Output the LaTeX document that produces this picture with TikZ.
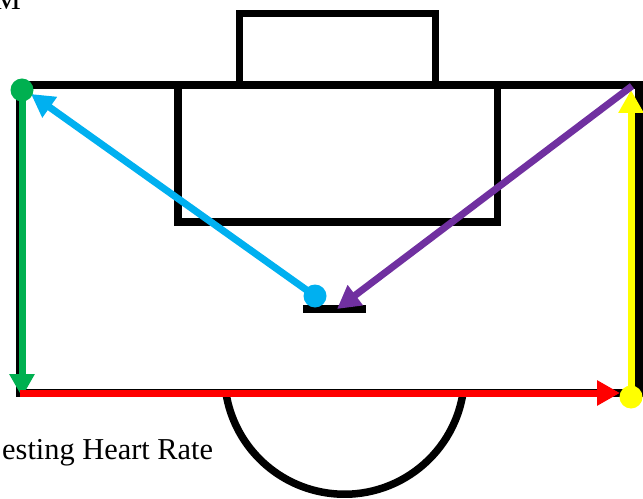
\documentclass[tikz,border=0pt]{standalone}
\usepackage{fontspec}
\setmainfont{Liberation Serif}
\usetikzlibrary{arrows.meta}
\definecolor{cgreen}{HTML}{00B050}
\definecolor{cblue}{HTML}{00B0F0}
\definecolor{cred}{HTML}{FF0000}
\definecolor{cyellow}{HTML}{FFFF00}
\definecolor{cpurple}{HTML}{7030A0}
\begin{document}
\begin{tikzpicture}[x=1bp,y=-1bp,
  field/.style={line width=7.5bp, draw=black},
  mv/.style={line width=7bp, -{Triangle[length=23bp,width=24bp]}},
  dot/.style={circle, inner sep=0pt, minimum size=23bp},
  lbl/.style={inner sep=0pt, font=\fontsize{30.5}{36}\selectfont}]
\useasboundingbox (0,0) rectangle (643,499);
\clip (0,0) rectangle (643,499);
% field
\draw[field] (20,85) rectangle (639,393);
\draw[field] (239.5,13.5) rectangle (435.5,85);
\draw[field] (178,85) rectangle (497.5,222);
\draw[field] (303,309) -- (366,309);
\draw[field] (463,393) arc[start angle=9, end angle=171, radius=120];
% coordinates
\coordinate (gc) at (22,90);
\coordinate (bc) at (315,296);
\coordinate (yc) at (631,397);
\coordinate (gtip) at (22,397);
\coordinate (rstart) at (20,393);
\coordinate (rtip) at (620,393);
\coordinate (ytip) at (631,90);
\coordinate (pstart) at (632,86);
\coordinate (ptip) at (337,309);
\coordinate (btip) at (31,94);
% arrows
\draw[mv, cgreen] (gc) -- (gtip);
\draw[mv, cred] (rstart) -- (rtip);
\draw[mv, cyellow] (yc) -- (ytip);
\draw[mv, cpurple] (pstart) -- (ptip);
\draw[mv, cblue] (bc) -- (btip);
% dots
\node[dot, fill=cgreen] (gdot) at (gc) {};
\node[dot, fill=cblue] (bdot) at (bc) {};
\node[dot, fill=cyellow] (ydot) at (yc) {};
% labels
\node[lbl, anchor=base west] (rhr) at (2,459) {esting Heart Rate};
\node[lbl, anchor=base east] (m) at (21,9.5) {M};
\end{tikzpicture}
\end{document}
